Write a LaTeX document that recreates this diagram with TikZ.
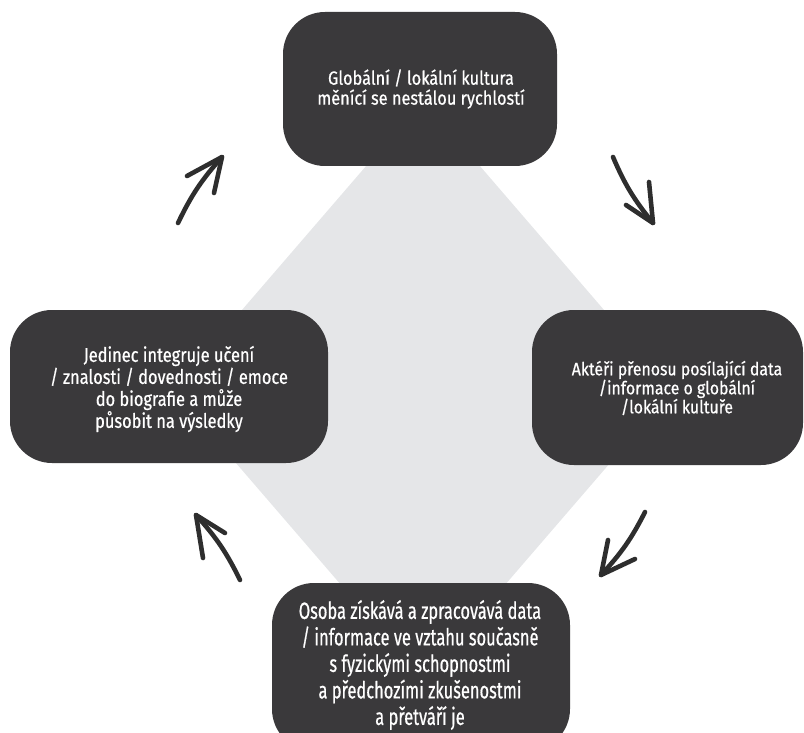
\documentclass[tikz,border=0pt]{standalone}
\usepackage{fontspec}
\setmainfont{Fira Sans}
\newfontfamily\topfont{Fira Sans}[FakeStretch=0.86, FakeBold=0.6]
\newfontfamily\rightfont{Fira Sans}[FakeStretch=0.88, FakeBold=0.6]
\newfontfamily\leftfont{Fira Sans}[FakeStretch=0.82, FakeBold=0.6]
\newfontfamily\bottomfont{Fira Sans}[FakeStretch=0.7, FakeBold=0.6]
\definecolor{boxgray}{HTML}{3A393B}
\definecolor{diagray}{HTML}{E5E6E8}
\definecolor{arrowgray}{HTML}{2E2E2E}
\tikzset{
  cardbox/.style={fill=boxgray, draw=none, rounded corners=42pt, inner sep=0pt},
  cardtext/.style={text=white, align=center, inner sep=0pt},
  handarrow/.style={draw=arrowgray, line width=4.6pt, line cap=round, line join=round},
}
\begin{document}
\begin{tikzpicture}[x=1pt,y=-1pt]
\useasboundingbox (0,0) rectangle (804,733);
\begin{scope}
\clip (0,0) rectangle (804,733);
% background diamond
\fill[diagray] (423,100) -- (673,390) -- (423,680) -- (173,390) -- cycle;
% boxes
\node[cardbox, minimum width=274pt, minimum height=154pt] (topbox) at (420,89) {};
\node[cardbox, minimum width=271pt, minimum height=155pt] (rightbox) at (667.5,387.5) {};
\node[cardbox, minimum width=318pt, minimum height=153pt] (leftbox) at (169,386.5) {};
\node[cardbox, minimum width=298pt, minimum height=168pt] (bottombox) at (421,667) {};
% texts
\node[cardtext, font=\topfont\fontsize{19}{20}\selectfont] (toptext) at (421,89)
  {Globální / lokální kultura\\měnící se nestálou rychlostí};
\node[cardtext, font=\rightfont\fontsize{18}{19}\selectfont] (righttext) at (677,388)
  {Aktéři přenosu posílající data\\/informace o globální\\/lokální kultuře};
\node[cardtext, font=\leftfont\fontsize{20}{22}\selectfont] (lefttext) at (169,389)
  {Jedinec integruje učení\\/ znalosti / dovednosti / emoce\\do biografie a může\\působit na výsledky};
\node[cardtext, font=\bottomfont\fontsize{23.5}{26.5}\selectfont] (bottomtext) at (420,665)
  {Osoba získává a zpracovává data\\/ informace ve vztahu současně\\s fyzickými schopnostmi\\a předchozími zkušenostmi\\a přetváří je};
\end{scope}
% hand-drawn arrows
\coordinate (a1tail) at (178,223); \coordinate (a1tip) at (222,157);
\coordinate (a1b1) at (187,176);   \coordinate (a1b2) at (214,193);
\coordinate (a2tail) at (613,157); \coordinate (a2tip) at (653,223);
\coordinate (a2b1) at (649,182);   \coordinate (a2b2) at (626,205);
\coordinate (a3tail) at (645,512); \coordinate (a3tip) at (601,575);
\coordinate (a3b1) at (608,540);   \coordinate (a3b2) at (635,559);
\coordinate (a4tail) at (240,580); \coordinate (a4tip) at (196,515);
\coordinate (a4b1) at (203,558);   \coordinate (a4b2) at (225,533);
\draw[handarrow] (a1tail) to[bend left=8] (a1tip);
\draw[handarrow] (a1b1) -- (a1tip) -- (a1b2);
\draw[handarrow] (a2tail) to[bend right=8] (a2tip);
\draw[handarrow] (a2b1) -- (a2tip) -- (a2b2);
\draw[handarrow] (a3tail) to[bend left=8] (a3tip);
\draw[handarrow] (a3b1) -- (a3tip) -- (a3b2);
\draw[handarrow] (a4tail) to[bend right=8] (a4tip);
\draw[handarrow] (a4b1) -- (a4tip) -- (a4b2);
\end{tikzpicture}
\end{document}
